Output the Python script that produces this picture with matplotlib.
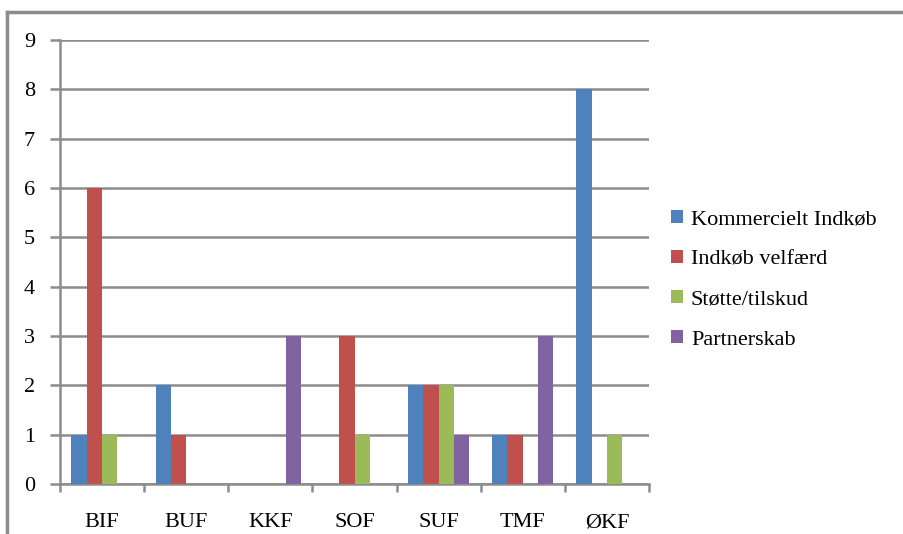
import matplotlib
matplotlib.use("Agg")
import matplotlib.pyplot as plt
import numpy as np
from matplotlib.patches import Patch
from matplotlib.lines import Line2D

categories = ["BIF", "BUF", "KKF", "SOF", "SUF", "TMF", "ØKF"]
series_names = ["Kommercielt Indkøb", "Indkøb velfærd", "Støtte/tilskud", "Partnerskab"]
kommercielt = [1, 2, 0, 0, 2, 1, 8]
velfaerd = [6, 1, 0, 3, 2, 1, 0]
stotte = [1, 0, 0, 1, 2, 0, 1]
partnerskab = [0, 0, 3, 0, 1, 3, 0]
colors = ["#4F81BD", "#C0504D", "#9BBB59", "#8064A2"]

plt.rcParams['font.family'] = ['Liberation Serif', 'DejaVu Serif']

fig = plt.figure(figsize=(9.04, 5.34), dpi=100)
ax = fig.add_axes([60/904, 1-484/534, (649-60)/904, (484-40)/534])

grid_c = "#8c8c8c"
n = len(categories)
x = np.arange(n)
bw = 1/5.5
data = [kommercielt, velfaerd, stotte, partnerskab]
for i, (vals, c) in enumerate(zip(data, colors)):
    ax.bar(x + (i - 1.5) * bw, vals, width=bw, color=c, edgecolor="none", zorder=3)

ax.set_xlim(-0.5, n - 0.5)
ax.set_ylim(0, 9)
ax.set_yticks(range(10))
ax.yaxis.grid(True, color=grid_c, linewidth=1.8, zorder=0)
ax.set_axisbelow(True)
for s in ["top", "right"]:
    ax.spines[s].set_visible(False)
for s in ["left", "bottom"]:
    ax.spines[s].set_color(grid_c)
    ax.spines[s].set_linewidth(1.8)
ax.tick_params(axis="y", length=7, width=1.8, color=grid_c, labelsize=16, pad=11)
ax.set_xticks(x)
ax.set_xticklabels(categories)
ax.tick_params(axis="x", which="major", length=0, labelsize=16, pad=21)
ax.set_xticks(np.arange(-0.5, n, 1), minor=True)
ax.tick_params(axis="x", which="minor", length=6, width=1.8, color=grid_c)

handles = [Patch(facecolor=c, edgecolor="none") for c in colors]
fig.legend(handles, series_names, loc="upper left", bbox_to_anchor=(651/904, 1-190/534),
           frameon=False, fontsize=16, handlelength=0.55, handleheight=0.55,
           handletextpad=0.35, labelspacing=0.92)

# outer chart border (left and top visible)
fig.add_artist(Line2D([7/904, 7/904], [0, 1-12/534], color=grid_c, linewidth=2.5, transform=fig.transFigure))
fig.add_artist(Line2D([7/904, 1], [1-12/534, 1-12/534], color=grid_c, linewidth=2.5, transform=fig.transFigure))

fig.savefig("out.png", dpi=100)
